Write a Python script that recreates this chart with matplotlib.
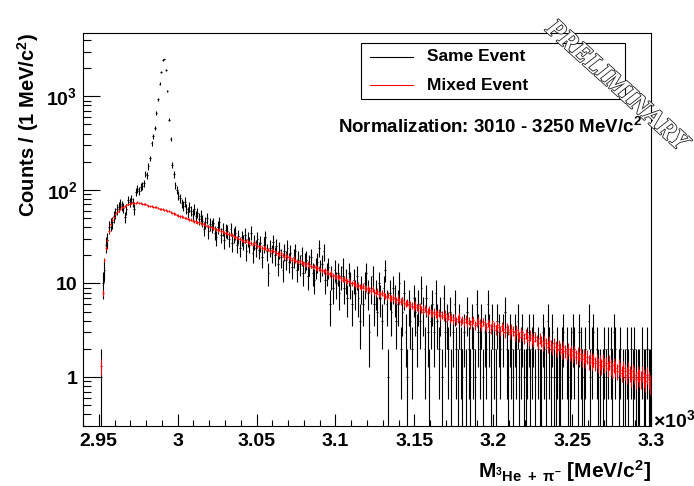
import numpy as np
import matplotlib
matplotlib.use('Agg')
import matplotlib.pyplot as plt
import matplotlib.patheffects as pe
from matplotlib.patches import Rectangle
from matplotlib.lines import Line2D
from matplotlib.ticker import MultipleLocator, LogLocator, NullFormatter

plt.rcParams['font.family'] = 'Liberation Sans'
plt.rcParams['font.weight'] = 'bold'
plt.rcParams['axes.labelweight'] = 'bold'
plt.rcParams['mathtext.fontset'] = 'custom'
plt.rcParams['mathtext.rm'] = 'Liberation Sans:bold'
plt.rcParams['mathtext.it'] = 'Liberation Sans:italic'
plt.rcParams['mathtext.bf'] = 'Liberation Sans:bold'
plt.rcParams['mathtext.default'] = 'rm'

# histogram binning (MeV), 1 MeV bins starting at 2951
first_bin = 2951
bin_width = 1

# same event counts per bin
same_event = [
    1, 10, 14, 26, 29, 40, 43, 45, 52, 56,
    62, 66, 71, 68, 64, 51, 62, 77, 74, 80,
    74, 62, 95, 102, 98, 107, 110, 118, 148, 143,
    178, 217, 314, 373, 455, 663, 929, 1367, 1820, 2450,
    2480, 1897, 1131, 563, 349, 183, 146, 112, 100, 87,
    82, 72, 68, 75, 63, 58, 66, 60, 55, 62,
    52, 57, 49, 53, 47, 38, 45, 50, 36, 43,
    41, 44, 35, 31, 40, 45, 33, 38, 29, 37,
    36, 30, 38, 27, 33, 35, 26, 32, 24, 31,
    28, 33, 22, 30, 26, 35, 21, 28, 24, 30,
    23, 27, 19, 26, 31, 22, 13, 24, 21, 28,
    20, 25, 16, 23, 19, 14, 22, 18, 24, 17,
    21, 15, 19, 22, 14, 18, 16, 20, 13, 17,
    18, 12, 16, 19, 13, 11, 15, 17, 24, 14,
    16, 22, 11, 13, 15, 6, 12, 9, 14, 10,
    13, 8, 12, 15, 9, 11, 7, 13, 10, 6,
    11, 8, 12, 7, 4, 9, 6, 10, 13, 8,
    3, 9, 12, 6, 8, 5, 10, 7, 4, 9,
    14, 6, 1, 8, 5, 9, 7, 4, 6, 10,
    2, 5, 8, 3, 1, 6, 4, 2, 7, 5,
    3, 6, 4, 9, 5, 2, 7, 3, 1, 4,
    6, 3, 8, 4, 2, 5, 1, 7, 3, 4,
    2, 5, 1, 3, 6, 2, 1, 4, 2, 1,
    3, 1, 5, 2, 1, 4, 2, 1, 6, 3,
    2, 4, 1, 3, 2, 6, 3, 1, 4, 2,
    1, 4, 3, 2, 0, 3, 5, 2, 1, 3,
    2, 1, 3, 2, 4, 1, 2, 3, 1, 1,
    2, 3, 1, 2, 3, 1, 0, 2, 1, 1,
    3, 2, 1, 4, 2, 1, 3, 1, 1, 2,
    1, 1, 2, 3, 0, 2, 1, 1, 2, 3,
    2, 0, 1, 3, 2, 1, 1, 2, 0, 4,
    1, 2, 3, 0, 2, 1, 1, 0, 1, 2,
    1, 2, 0, 2, 1, 3, 2, 0, 1, 2,
    0, 1, 1, 2, 1, 0, 2, 1, 2, 1,
    1, 1, 0, 2, 1, 1, 2, 1, 1,
]

# mixed event, normalised to same event in 3010-3250
mixed_event = [
    1.3, 8.0, 17.7, 24, 29, 36, 43, 48, 51.5, 55,
    58, 60, 63, 65, 66, 68, 69, 70, 71, 72,
    72, 73, 73, 74, 72, 72, 71, 71, 70, 69,
    68, 68, 67, 66, 66, 65, 64, 63, 63, 62,
    61, 61, 60, 59, 58, 57, 56, 55, 54, 53,
    52, 52, 51, 50, 50, 49, 48, 48, 47, 46,
    46, 45, 45, 44, 43, 44, 42, 41, 41, 40,
    40, 39, 39, 38, 37, 38, 36, 36, 35, 35,
    34, 34, 33, 33, 32, 31, 31, 30, 30, 29,
    29, 28, 29, 28, 27, 27, 26, 27, 26, 25,
    25, 25, 24, 24, 24, 23, 23, 22, 23, 22,
    22, 21, 21, 20, 21, 20, 19, 20, 19, 19,
    18.5, 18, 18.5, 17.5, 17.5, 17, 17.5, 16.5, 16.5, 16,
    16, 16.5, 15.5, 15.5, 15, 15.5, 14.8, 14.5, 14.5, 14,
    13.8, 13.5, 14, 13, 13, 12.6, 13, 12.3, 12, 12,
    11.6, 11.8, 11.3, 11, 11.2, 10.8, 10.5, 10.7, 10.2, 10,
    10.1, 9.8, 9.5, 9.7, 9.3, 9.1, 9.4, 8.9, 8.7, 8.9,
    8.5, 8.4, 8.7, 8.2, 8.0, 8.3, 7.8, 7.7, 7.9, 7.5,
    7.4, 7.2, 7.5, 7.0, 6.9, 7.1, 6.8, 6.6, 6.9, 6.5,
    6.4, 6.6, 6.2, 6.1, 6.3, 5.9, 6.0, 5.8, 5.6, 5.9,
    5.6, 5.5, 5.7, 5.3, 5.2, 5.4, 5.1, 5.0, 5.2, 4.9,
    4.8, 5.0, 4.7, 4.6, 4.9, 4.5, 4.6, 4.4, 4.7, 4.3,
    4.5, 4.2, 4.4, 4.1, 4.3, 4.0, 4.2, 4.4, 3.9, 4.1,
    3.9, 4.2, 3.8, 4.0, 3.7, 3.9, 4.1, 3.6, 3.8, 4.0,
    3.8, 3.5, 3.9, 3.7, 3.4, 3.8, 3.6, 3.3, 3.7, 3.5,
    3.2, 3.6, 3.4, 3.1, 3.5, 3.3, 3.0, 3.4, 3.2, 2.9,
    3.3, 3.1, 2.8, 3.2, 2.9, 2.7, 3.0, 2.8, 2.6, 2.9,
    2.7, 2.5, 2.8, 2.6, 2.4, 2.7, 2.5, 2.3, 2.6, 2.4,
    2.2, 2.5, 2.3, 2.1, 2.4, 2.2, 2.0, 2.3, 2.1, 1.95,
    2.2, 2.0, 1.85, 2.1, 1.9, 1.8, 2.0, 1.75, 1.9, 1.7,
    1.85, 1.65, 1.8, 1.6, 1.75, 1.55, 1.7, 1.5, 1.65, 1.45,
    1.6, 1.45, 1.55, 1.4, 1.5, 1.35, 1.45, 1.3, 1.5, 1.35,
    1.4, 1.25, 1.45, 1.3, 1.2, 1.35, 1.25, 1.15, 1.3, 1.2,
    1.1, 1.25, 1.15, 1.05, 1.2, 1.1, 1.0, 1.15, 1.05, 0.95,
    1.1, 1.0, 0.95, 1.1, 1.0, 0.9, 1.05, 0.95, 0.85,
]
mixed_weight = 0.045  # per-entry weight of the normalised mixed sample

x_ticks = [2.95, 3.0, 3.05, 3.1, 3.15, 3.2, 3.25, 3.3]
x_labels = ['2.95', '3', '3.05', '3.1', '3.15', '3.2', '3.25', '3.3']
y_ticks = [1, 10, 100, 1000]
y_labels = ['1', '10', '$10^{2}$', '$10^{3}$']

se = np.array(same_event, dtype=float)
me = np.array(mixed_event, dtype=float)
mass = (first_bin + bin_width * (np.arange(len(se)) + 0.5)) / 1000.
half = bin_width / 2000.

fig = plt.figure(figsize=(6.94, 4.86), dpi=100)
ax = fig.add_axes([0.1196, 0.1235, 0.8184, 0.8096])
ax.set_yscale('log', nonpositive='clip')

keep = se > 0
ax.errorbar(mass[keep], se[keep], yerr=np.sqrt(se[keep]), xerr=half,
            fmt='none', ecolor='black', elinewidth=0.8)
ax.errorbar(mass, me, yerr=np.sqrt(me * mixed_weight), xerr=half,
            fmt='none', ecolor='red', elinewidth=0.8)

ax.set_xlim(2.940, 3.300)
ax.set_ylim(0.3, 4800)

ax.set_xticks(x_ticks)
ax.set_xticklabels(x_labels)
ax.xaxis.set_minor_locator(MultipleLocator(0.01))
ax.set_yticks(y_ticks)
ax.set_yticklabels(y_labels)
ax.yaxis.set_minor_locator(LogLocator(base=10, subs=np.arange(2, 10)))
ax.yaxis.set_minor_formatter(NullFormatter())

ax.tick_params(which='both', direction='in', top=False, right=False, width=0.8)
ax.tick_params(axis='y', which='major', length=12, pad=4, labelsize=14)
ax.tick_params(axis='y', which='minor', length=6)
ax.tick_params(axis='x', which='major', length=8.5, pad=5, labelsize=14)
ax.tick_params(axis='x', which='minor', length=4)
for s in ax.spines.values():
    s.set_linewidth(0.8)

ax.set_ylabel('Counts / (1 MeV/c$^{2}$)', fontsize=14.5, loc='top', labelpad=4)
ax.set_xlabel(r'M$_{^{3}\mathrm{He}\ +\ \pi^{-}}$ [MeV/c$^{2}$]', fontsize=15,
              loc='right', labelpad=6)
fig.text(0.941, 0.1358, r'$\times$10$^{3}$', fontsize=14, va='center', ha='left')

# legend box
fig.add_artist(Rectangle((0.5202, 0.7963), 0.3804, 0.1152, transform=fig.transFigure,
                         fill=False, lw=0.8, ec='black'))
fig.add_artist(Line2D([0.533, 0.595], [0.8833, 0.8833], color='black', lw=0.8,
                      transform=fig.transFigure))
fig.add_artist(Line2D([0.533, 0.595], [0.8251, 0.8251], color='red', lw=0.8,
                      transform=fig.transFigure))
fig.text(0.615, 0.8833, 'Same Event', fontsize=12.5, va='center')
fig.text(0.615, 0.8251, 'Mixed Event', fontsize=12.5, va='center')

fig.text(0.925, 0.7263, 'Normalization: 3010 - 3250 MeV/c$^{2}$', fontsize=13.5,
         ha='right', va='baseline')

prelim = fig.text(0.888, 0.823, 'PRELIMINARY', fontsize=19, rotation=-42,
                  ha='center', va='center', family='Liberation Serif',
                  style='italic', weight='bold', color='white')
prelim.set_path_effects([pe.Stroke(linewidth=1.2, foreground='#222222'), pe.Normal()])

fig.savefig('out.png', dpi=100)
